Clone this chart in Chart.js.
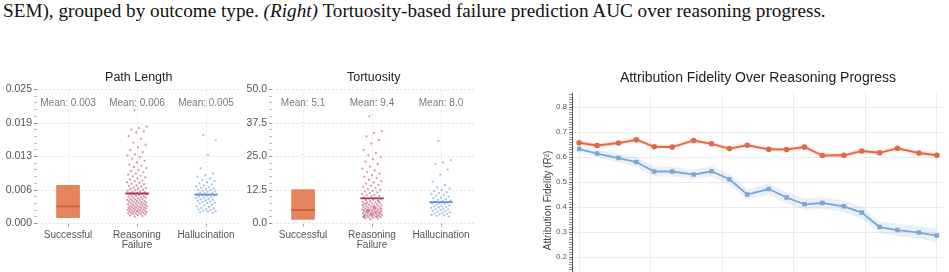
<!DOCTYPE html>
<html><head><meta charset="utf-8">
<script src="https://cdn.jsdelivr.net/npm/chart.js@4.4.1/dist/chart.umd.min.js"></script>
<style>
html,body{margin:0;padding:0;background:#fff;width:949px;height:272px;overflow:hidden;position:relative;}
#cap{position:absolute;left:3px;top:0px;font-family:"Liberation Serif","Times New Roman",serif;font-size:19.2px;line-height:22px;color:#111;white-space:nowrap;}
canvas{position:absolute;}
</style></head><body>
<div id="cap">SEM), grouped by outcome type. <i>(Right)</i> Tortuosity-based failure prediction AUC over reasoning progress.</div>
<canvas id="c1" width="245" height="200" style="left:0;top:60px"></canvas>
<canvas id="c2" width="240" height="200" style="left:240px;top:60px"></canvas>
<canvas id="c3" width="419" height="300" style="left:530px;top:60px"></canvas>
<script>
// ================= DATA =================
const stripCategories = ["Successful", ["Reasoning", "Failure"], "Hallucination"];

// Path Length panel
const plTitle = "Path Length";
const plTickValues = [0, 0.00625, 0.0125, 0.01875, 0.025];
const plTickLabels = ["0.000", "0.006", "0.013", "0.019", "0.025"];
const plSuccessRange = [0.0011, 0.0071];
const plFailure = [0.0211, 0.0181, 0.0178, 0.0175, 0.0172, 0.0170, 0.0163, 0.0158, 0.0151, 0.0147, 0.0142, 0.0137,
  0.0133, 0.0129, 0.0127, 0.0124, 0.0121, 0.0117, 0.0114, 0.0110, 0.0108, 0.0105, 0.0103, 0.0100, 0.0098, 0.0096,
  0.0093, 0.0091, 0.0089, 0.0088, 0.0086, 0.0084, 0.0082, 0.0080, 0.0079, 0.0077, 0.0076, 0.0074, 0.0073, 0.0071,
  0.0070, 0.0069, 0.0067, 0.0066, 0.0065, 0.0064, 0.0063, 0.0062, 0.0061, 0.0060, 0.0059, 0.0058, 0.0057, 0.0056,
  0.0055, 0.0054, 0.0054, 0.0053, 0.0052, 0.0051, 0.0051, 0.0050, 0.0049, 0.0048, 0.0048, 0.0047, 0.0046, 0.0046,
  0.0045, 0.0044, 0.0044, 0.0043, 0.0042, 0.0042, 0.0041, 0.0040, 0.0040, 0.0039, 0.0039, 0.0038, 0.0037, 0.0037,
  0.0036, 0.0036, 0.0035, 0.0035, 0.0034, 0.0033, 0.0033, 0.0032, 0.0032, 0.0031, 0.0031, 0.0030, 0.0030, 0.0029,
  0.0029, 0.0028, 0.0028, 0.0027, 0.0027, 0.0026, 0.0026, 0.0025, 0.0025, 0.0024, 0.0024, 0.0023, 0.0023, 0.0022,
  0.0022, 0.0021, 0.0021, 0.0020, 0.0020, 0.0019, 0.0019, 0.0018, 0.0018, 0.0017, 0.0016, 0.0015, 0.0014, 0.0013];
const plHalluc = [0.0165, 0.0155, 0.0128, 0.0103, 0.0093, 0.0090, 0.0087, 0.0084, 0.0081, 0.0079, 0.0077, 0.0075,
  0.0073, 0.0071, 0.0069, 0.0068, 0.0066, 0.0065, 0.0064, 0.0063, 0.0062, 0.0061, 0.0060, 0.0059, 0.0058, 0.0057,
  0.0056, 0.0055, 0.0054, 0.0053, 0.0052, 0.0051, 0.0050, 0.0049, 0.0048, 0.0047, 0.0046, 0.0045, 0.0044, 0.0043,
  0.0042, 0.0041, 0.0040, 0.0039, 0.0038, 0.0037, 0.0035, 0.0034, 0.0032, 0.0031, 0.0029, 0.0028, 0.0027, 0.0026,
  0.0025, 0.0024, 0.0023, 0.0022, 0.0021, 0.0020];
const plMeans = [0.0032, 0.0056, 0.0054];
const plMeanLabels = ["Mean: 0.003", "Mean: 0.006", "Mean: 0.005"];

// Tortuosity panel
const tortTitle = "Tortuosity";
const tortTickValues = [0, 12.5, 25, 37.5, 50];
const tortTickLabels = ["0.0", "12.5", "25.0", "37.5", "50.0"];
const tortSuccessRange = [1.5, 12.7];
const tortFailure = [40.0, 34.5, 33.8, 32.5, 31.2, 29.8, 27.5, 26.3, 25.5, 24.8, 24.0, 23.1, 22.2, 21.2, 20.5, 19.8,
  19.2, 18.6, 18.0, 17.4, 16.9, 16.3, 15.8, 15.3, 14.9, 14.4, 14.0, 13.6, 13.2, 12.8, 12.5, 12.2, 11.9, 11.6, 11.3,
  11.0, 10.7, 10.5, 10.2, 10.0, 9.8, 9.5, 9.3, 9.1, 8.9, 8.7, 8.5, 8.3, 8.1, 7.9, 7.8, 7.6, 7.4, 7.3, 7.1, 7.0, 6.8,
  6.7, 6.5, 6.4, 6.3, 6.1, 6.0, 5.9, 5.8, 5.6, 5.5, 5.4, 5.3, 5.2, 5.1, 5.0, 4.9, 4.8, 4.7, 4.6, 4.5, 4.4, 4.3, 4.2,
  4.1, 4.0, 3.9, 3.8, 3.7, 3.6, 3.5, 3.4, 3.3, 3.2, 3.1, 3.0, 2.9, 2.8, 2.7, 2.6, 2.5, 2.4, 2.3, 2.2, 2.0, 1.8, 1.6,
  6.9, 5.7, 4.4, 3.9, 3.3, 2.9, 2.6, 4.8, 5.3, 6.2, 7.5, 8.2, 3.6, 2.4, 4.1, 5.0];
const tortHalluc = [30.8, 23.6, 22.8, 22.2, 20.1, 18.2, 15.6, 14.3, 13.5, 13.0, 12.6, 12.1, 11.7, 11.3, 11.0, 10.6,
  10.3, 10.0, 9.7, 9.4, 9.1, 8.8, 8.5, 8.3, 8.0, 7.8, 7.6, 7.4, 7.2, 7.0, 6.8, 6.6, 6.4, 6.2, 6.0, 5.8, 5.6, 5.4,
  5.2, 5.0, 4.8, 4.6, 4.4, 4.2, 4.0, 3.8, 3.6, 3.4, 3.2, 3.0, 2.8, 2.6];
const tortMeans = [5.1, 9.4, 8.0];
const tortMeanLabels = ["Mean: 5.1", "Mean: 9.4", "Mean: 8.0"];

// Attribution fidelity panel
const fidTitle = "Attribution Fidelity Over Reasoning Progress";
const progress = [0.00, 0.05, 0.11, 0.16, 0.21, 0.26, 0.32, 0.37, 0.42, 0.47, 0.53, 0.58, 0.63, 0.68, 0.74, 0.79, 0.84, 0.89, 0.95, 1.00];
const progressTicks = [0, 0.2, 0.4, 0.6, 0.8, 1.0];
const progressTickLabels = ["0.0", "0.2", "0.4", "0.6", "0.8", "1.0"];
const fidelitySuccess = [0.658, 0.647, 0.657, 0.670, 0.642, 0.641, 0.667, 0.654, 0.635, 0.648, 0.632, 0.631, 0.641, 0.607, 0.608, 0.625, 0.618, 0.636, 0.617, 0.608];
const semSuccess = [0.008, 0.009, 0.009, 0.010, 0.009, 0.009, 0.010, 0.009, 0.009, 0.010, 0.009, 0.009, 0.010, 0.010, 0.009, 0.010, 0.010, 0.010, 0.010, 0.010];
const fidelityFailure = [0.633, 0.615, 0.597, 0.581, 0.543, 0.543, 0.531, 0.544, 0.512, 0.451, 0.473, 0.439, 0.412, 0.417, 0.404, 0.379, 0.321, 0.309, 0.299, 0.287];
const semFailure = [0.012, 0.014, 0.017, 0.020, 0.020, 0.019, 0.019, 0.020, 0.022, 0.021, 0.022, 0.022, 0.023, 0.023, 0.023, 0.024, 0.024, 0.025, 0.025, 0.026];
const fidTickLabels = ["0.0", "0.1", "0.2", "0.3", "0.4", "0.5", "0.6", "0.7", "0.8"];
const seriesNames = ["Successful", "Failed"];

// ================= RENDER =================
const SANS = '"Liberation Sans", Arial, Helvetica, sans-serif';
const jitter = i => (((i * 0.6180339887 + 0.37) % 1) * 2 - 1) * 0.145;

const meanLabelPlugin = {
  id: 'meanLabels',
  afterDatasetsDraw(chart, args, opts) {
    if (!opts || !opts.labels) return;
    const {ctx, chartArea, scales} = chart;
    ctx.save();
    ctx.font = '10px ' + SANS;
    ctx.fillStyle = '#7a7a7a';
    ctx.textAlign = 'center';
    ctx.textBaseline = 'middle';
    opts.labels.forEach((t, i) => ctx.fillText(t, scales.x.getPixelForValue(i), chartArea.top + 13.5));
    ctx.restore();
  }
};

function stripChart(id, title, tickVals, tickLabs, range, fail, hall, means, meanLabs, yAxisW) {
  const meanColors = ['#c65f3a', '#a5365f', '#5c8fcf'];
  const datasets = [
    {type: 'bar', data: [{x: 0, y: range}], backgroundColor: 'rgba(228,124,84,0.95)', barThickness: 23, order: 3},
    {type: 'scatter', data: fail.map((v, i) => ({x: 1 + jitter(i), y: v})), backgroundColor: 'rgba(186,84,124,0.6)',
      borderWidth: 0, pointRadius: 1.15, order: 2},
    {type: 'scatter', data: hall.map((v, i) => ({x: 2 + jitter(i), y: v})), backgroundColor: 'rgba(108,158,214,0.6)',
      borderWidth: 0, pointRadius: 1.15, order: 2},
  ];
  means.forEach((m, c) => datasets.push({type: 'line', data: [{x: c - 0.17, y: m}, {x: c + 0.17, y: m}],
    borderColor: meanColors[c], borderWidth: 1.8, pointRadius: 0, order: 0}));
  return new Chart(document.getElementById(id), {
    type: 'scatter',
    data: {datasets},
    plugins: [meanLabelPlugin],
    options: {
      responsive: false, animation: false,
      layout: {padding: {left: 0, right: 4.5, top: 0, bottom: 0}},
      plugins: {
        legend: {display: false}, tooltip: {enabled: false},
        title: {display: true, text: title, fullSize: false, color: '#222',
          font: {family: SANS, size: 12.5, weight: 'normal', lineHeight: 1.2}, padding: {top: 10, bottom: 4.5}},
        meanLabels: {labels: meanLabs}
      },
      scales: {
        x: {type: 'linear', min: -0.45, max: 2.5, offset: false, bounds: 'data',
          afterBuildTicks: s => { s.ticks = [0, 1, 2].map(v => ({value: v})); },
          afterFit: s => { s.height = 36.5; },
          ticks: {autoSkip: false, maxRotation: 0, padding: 4, color: '#555',
            font: {family: SANS, size: 10, lineHeight: 1.0}, callback: (v) => stripCategories[v]},
          grid: {offset: false, color: '#dedede', lineWidth: 0.8, tickColor: '#888', tickLength: 3, tickWidth: 0.8},
          border: {display: false, dash: [2, 2]}},
        y: {type: 'linear', min: tickVals[0], max: tickVals[tickVals.length - 1], bounds: 'data',
          afterBuildTicks: s => {
            const t = [];
            for (let i = 0; i < tickVals.length; i++) {
              t.push({value: tickVals[i], isMajor: true, lab: tickLabs[i]});
              if (i < tickVals.length - 1) for (let k = 1; k < 5; k++)
                t.push({value: tickVals[i] + (tickVals[i + 1] - tickVals[i]) * k / 5, isMajor: false, lab: ''});
            }
            s.ticks = t;
          },
          afterFit: s => { s.width = yAxisW; },
          ticks: {autoSkip: false, padding: 2, color: '#555', font: {family: SANS, size: 10.5},
            callback: (v, i, ticks) => ticks[i].lab},
          grid: {color: c => (c.tick && c.tick.isMajor) ? '#dedede' : 'rgba(0,0,0,0)', lineWidth: 0.8,
            tickColor: c => (c.tick && c.tick.isMajor) ? '#777' : '#aaa', tickLength: 3, tickWidth: 0.8},
          border: {display: false, dash: [2, 2]}}
      }
    }
  });
}

stripChart('c1', plTitle, plTickValues, plTickLabels, plSuccessRange, plFailure, plHalluc, plMeans, plMeanLabels, 37);
stripChart('c2', tortTitle, tortTickValues, tortTickLabels, tortSuccessRange, tortFailure, tortHalluc, tortMeans, tortMeanLabels, 32);

const ORANGE = '#de6b48', BLUE = '#7ba7d7';
const pts = arr => progress.map((x, i) => ({x, y: arr[i]}));
const band = (m, s, sign) => progress.map((x, i) => ({x, y: m[i] + sign * s[i]}));

new Chart(document.getElementById('c3'), {
  type: 'line',
  data: {datasets: [
    {label: seriesNames[0] + ' upper', data: band(fidelitySuccess, semSuccess, 1), borderWidth: 0, pointRadius: 0, fill: false, order: 2},
    {label: seriesNames[0] + ' lower', data: band(fidelitySuccess, semSuccess, -1), borderWidth: 0, pointRadius: 0,
      fill: '-1', backgroundColor: 'rgba(222,107,72,0.16)', order: 2},
    {label: seriesNames[1] + ' upper', data: band(fidelityFailure, semFailure, 1), borderWidth: 0, pointRadius: 0, fill: false, order: 2},
    {label: seriesNames[1] + ' lower', data: band(fidelityFailure, semFailure, -1), borderWidth: 0, pointRadius: 0,
      fill: '-1', backgroundColor: 'rgba(123,167,215,0.17)', order: 2},
    {label: seriesNames[0], data: pts(fidelitySuccess), borderColor: ORANGE, backgroundColor: ORANGE, borderWidth: 1.8,
      pointStyle: 'circle', pointRadius: 2.8, pointBorderWidth: 0, order: 0},
    {label: seriesNames[1], data: pts(fidelityFailure), borderColor: BLUE, backgroundColor: BLUE, borderWidth: 1.8,
      pointStyle: 'rect', pointRadius: 3.2, pointBorderWidth: 0, order: 0}
  ]},
  options: {
    responsive: false, animation: false,
    layout: {padding: {left: 0, right: 5, top: 0, bottom: 0}},
    plugins: {
      legend: {display: false}, tooltip: {enabled: false},
      title: {display: true, text: fidTitle, fullSize: false, color: '#222',
        font: {family: SANS, size: 14, weight: 'normal', lineHeight: 1.2}, padding: {top: 10, bottom: 6.7}}
    },
    scales: {
      x: {type: 'linear', min: -0.02, max: 1.02, bounds: 'data',
        afterBuildTicks: s => { s.ticks = progressTicks.map((v, i) => ({value: v, lab: progressTickLabels[i]})); },
        afterFit: s => { s.height = 52.7; },
        ticks: {color: '#555', font: {family: SANS, size: 8}, callback: (v, i, t) => t[i].lab},
        grid: {color: '#ebebeb', lineWidth: 1, tickColor: '#555', tickLength: 3},
        border: {display: true, color: '#444'},
        title: {display: true, text: 'Reasoning Progress', color: '#444', font: {family: SANS, size: 10}}},
      y: {type: 'linear', min: 0, max: 0.855, bounds: 'data',
        afterBuildTicks: s => {
          const t = [];
          for (let k = 0; k <= 85; k++) t.push({value: k / 100, isMajor: k % 10 === 0, lab: k % 10 === 0 ? fidTickLabels[k / 10] : ''});
          s.ticks = t;
        },
        afterFit: s => { s.width = 42; },
        ticks: {autoSkip: false, padding: 2, color: '#555', font: {family: SANS, size: 8}, callback: (v, i, t) => t[i].lab},
        grid: {color: c => (c.tick && c.tick.isMajor) ? '#ebebeb' : 'rgba(0,0,0,0)', lineWidth: 1,
          tickColor: c => (c.tick && c.tick.isMajor) ? '#444' : '#777', tickLength: 3, tickWidth: 0.8},
        border: {display: true, color: '#555', width: 1},
        title: {display: true, text: 'Attribution Fidelity (R²)', color: '#444', font: {family: SANS, size: 10}, padding: {top: 12, bottom: 0}}}
    }
  }
});
</script>
</body></html>
